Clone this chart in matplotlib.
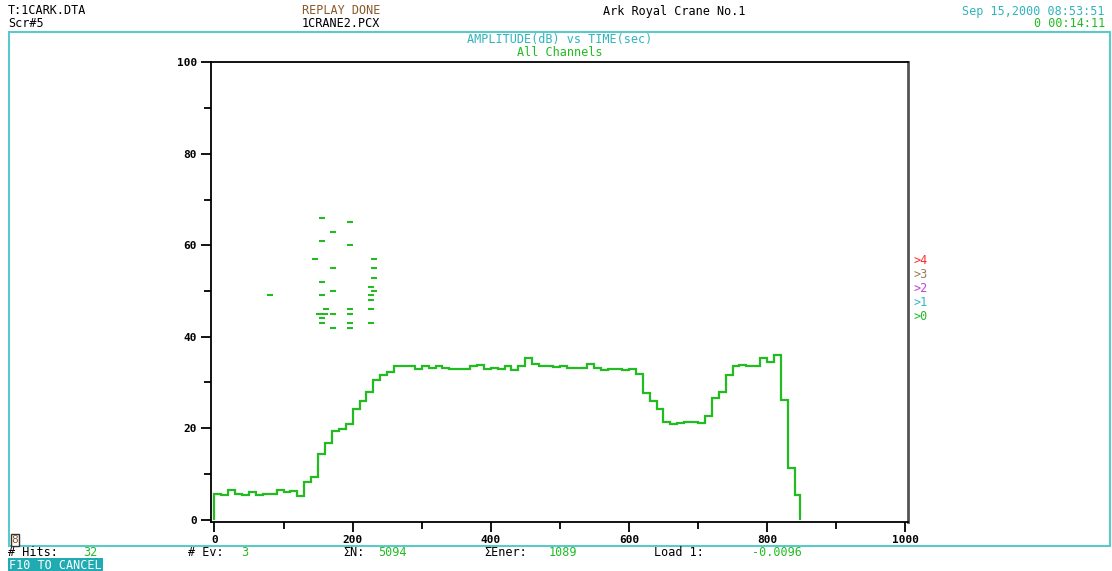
import matplotlib
matplotlib.use('Agg')
import matplotlib.pyplot as plt
from matplotlib.patches import Rectangle
import numpy as np

bin_width = 10
last_edge = 848
amplitude = [
    5.7, 5.5, 6.5, 5.7, 5.5, 6.1, 5.5, 5.7, 5.7, 6.4,
    6.0, 6.2, 5.2, 8.2, 9.3, 14.4, 16.7, 19.3, 19.8, 20.9,
    24.1, 26.0, 28.0, 30.5, 31.6, 32.4, 33.7, 33.5, 33.5, 32.9,
    33.7, 33.2, 33.7, 33.2, 32.9, 32.9, 32.9, 33.7, 33.9, 32.9,
    33.2, 32.9, 33.5, 32.7, 33.5, 35.4, 34.0, 33.7, 33.5, 33.3,
    33.5, 33.2, 33.2, 33.2, 34.1, 33.2, 32.7, 32.9, 32.9, 32.7,
    32.9, 31.9, 27.8, 26.0, 24.2, 21.4, 20.9, 21.2, 21.4, 21.4,
    21.2, 22.6, 26.5, 28.0, 31.7, 33.7, 33.9, 33.5, 33.5, 35.4,
    34.5, 36.0, 26.2, 11.2, 5.5,
]

hit_time = [156, 196, 171, 156, 196, 146, 231, 171, 231, 231,
            156, 226, 231, 171, 81, 156, 226, 226, 161, 196,
            226, 152, 160, 171, 196, 156, 156, 196, 226, 171, 196]
hit_amp = [66.0, 65.0, 63.0, 60.9, 60.1, 57.1, 57.1, 55.0, 55.0, 52.9,
           51.9, 50.9, 50.1, 50.1, 49.1, 49.1, 49.1, 48.1, 46.0, 46.0,
           46.0, 45.0, 45.0, 45.0, 45.0, 44.0, 43.0, 43.0, 43.0, 41.9, 41.9]

channels = ['>4', '>3', '>2', '>1', '>0']
channel_colors = ['#ff2a2a', '#9a7a55', '#c040d0', '#30b8c0', '#22bb22']

W, H = 1112, 571
GREEN = '#22bb22'
CYAN = '#30b4bc'
BROWN = '#8b5a2b'
MONO = 'DejaVu Sans Mono'


def fx(x):
    return x / W


def fy(y):
    return 1 - y / H


fig = plt.figure(figsize=(W / 100, H / 100), dpi=100)
fig.patch.set_facecolor('white')

# рамка экрана
fig.patches.append(Rectangle((fx(9), fy(546)), fx(1110) - fx(9), fy(32) - fy(546),
                             transform=fig.transFigure, fill=False,
                             edgecolor='#5cc8c8', linewidth=1.5))

# --- график ---
ax = fig.add_axes([fx(211), fy(521.5), fx(908) - fx(211), fy(61.5) - fy(521.5)])
edges = list(np.arange(0, len(amplitude)) * bin_width) + [last_edge]
ax.stairs(amplitude, edges, baseline=0, color=GREEN, linewidth=1.6)
ax.plot(hit_time, hit_amp, linestyle='none', marker='_', markersize=5,
        markeredgewidth=1.5, color=GREEN)

ax.set_xlim(-5, 1004)
ax.set_ylim(-0.4, 100.2)
ax.set_xticks(np.arange(0, 1001, 200))
ax.set_xticks(np.arange(100, 1000, 200), minor=True)
ax.set_yticks(np.arange(0, 101, 20))
ax.set_yticks(np.arange(10, 100, 20), minor=True)
ax.tick_params(which='major', direction='out', length=7, width=1.3,
               labelsize=8, pad=3)
ax.tick_params(which='minor', direction='out', length=5, width=1.3)
for lab in ax.get_xticklabels() + ax.get_yticklabels():
    lab.set_family(MONO)
    lab.set_fontweight('bold')
for sp in ax.spines.values():
    sp.set_linewidth(1.3)
ax.spines['right'].set_color('#555555')
ax.spines['right'].set_linewidth(2)

# --- заголовки ---
fs = 8.5
fig.text(fx(8), fy(11), 'T:1CARK.DTA', family=MONO, fontsize=fs, va='center')
fig.text(fx(8), fy(23.5), 'Scr#5', family=MONO, fontsize=fs, va='center')
fig.text(fx(341), fy(11), 'REPLAY DONE', family=MONO, fontsize=fs, va='center',
         ha='center', color=BROWN)
fig.text(fx(341), fy(23.5), '1CRANE2.PCX', family=MONO, fontsize=fs, va='center',
         ha='center')
fig.text(fx(674), fy(11), 'Ark Royal Crane No.1', family=MONO, fontsize=fs,
         va='center', ha='center')
fig.text(fx(1105), fy(11), 'Sep 15,2000 08:53:51', family=MONO, fontsize=fs,
         va='center', ha='right', color=CYAN)
fig.text(fx(1105), fy(23.5), '0 00:14:11', family=MONO, fontsize=fs,
         va='center', ha='right', color=GREEN)
fig.text(fx(560), fy(40), 'AMPLITUDE(dB) vs TIME(sec)', family=MONO, fontsize=fs,
         va='center', ha='center', color=CYAN)
fig.text(fx(560), fy(53), 'All Channels', family=MONO, fontsize=fs,
         va='center', ha='center', color=GREEN)

# каналы справа
for i, (name, col) in enumerate(zip(channels, channel_colors)):
    fig.text(fx(914), fy(261 + 14 * i), name, family=MONO, fontsize=fs,
             va='center', color=col)

# маленький индикатор
fig.text(fx(15), fy(540), '8', family=MONO, fontsize=8, va='center', ha='center',
         color=BROWN, bbox=dict(boxstyle='square,pad=0.1', fc='white', ec='#333333',
                                lw=1))

# строка состояния
status = [
    (8, '# Hits:', 'black'), (83, '32', GREEN),
    (188, '# Ev:', 'black'), (241, '3', GREEN),
    (343, '\u03a3N:', 'black'), (378, '5094', GREEN),
    (484, '\u03a3Ener:', 'black'), (549, '1089', GREEN),
    (654, 'Load 1:', 'black'), (752, '-0.0096', GREEN),
]
for x, txt, col in status:
    fig.text(fx(x), fy(553), txt, family=MONO, fontsize=fs, va='center', color=col)

fig.text(fx(9), fy(565.5), 'F10 TO CANCEL', family=MONO, fontsize=fs, va='center',
         color='white', bbox=dict(boxstyle='square,pad=0.1', fc='#20aab2', ec='none'))

plt.savefig('out.png', dpi=100, facecolor='white')
plt.close(fig)
